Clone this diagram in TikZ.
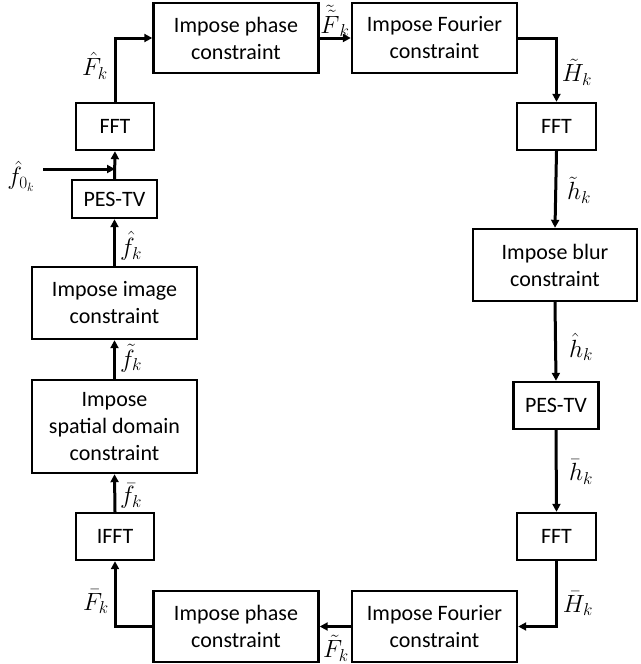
\documentclass[tikz,border=0pt]{standalone}
\usepackage{fontspec}
\setmainfont{Carlito}
\usetikzlibrary{arrows.meta}
\begin{document}
\begin{tikzpicture}[x=1pt,y=-1pt,
  box/.style={draw,line width=2.4pt,inner sep=0pt,align=center,
    font=\fontsize{22}{27}\selectfont},
  arr/.style={line width=3pt,-{Triangle[length=8pt,width=8pt]}},
  lab/.style={font=\fontsize{24}{28}\selectfont,inner sep=0pt}]
\useasboundingbox (0,0) rectangle (640,664);
% top row
\node[box,minimum width=165pt,minimum height=70pt] (ph1) at (236,38) {Impose phase\\constraint};
\node[box,minimum width=165pt,minimum height=70pt] (fo1) at (434.5,38) {Impose Fourier\\constraint};
% right column
\node[box,minimum width=79pt,minimum height=47pt] (fftR1) at (556.5,126.5) {FFT};
\node[box,minimum width=164pt,minimum height=72pt] (blur) at (555,265) {Impose blur\\constraint};
\node[box,minimum width=85pt,minimum height=47pt] (pesR) at (556,405.5) {PES-TV};
\node[box,minimum width=79pt,minimum height=47pt] (fftR2) at (556.5,536.5) {FFT};
% bottom row
\node[box,minimum width=165pt,minimum height=71pt] (fo2) at (434.5,626.5) {Impose Fourier\\constraint};
\node[box,minimum width=165pt,minimum height=71pt] (ph2) at (236,626.5) {Impose phase\\constraint};
% left column
\node[box,minimum width=78pt,minimum height=47pt] (ifft) at (115,536.5) {IFFT};
\node[box,minimum width=165pt,minimum height=93pt] (spat) at (114.5,426.5) {Impose\\spatial domain\\constraint};
\node[box,minimum width=165pt,minimum height=72pt] (img) at (114.5,303) {Impose image\\constraint};
\node[box,minimum width=85pt,minimum height=38pt] (pesL) at (114.5,199) {PES-TV};
\node[box,minimum width=78pt,minimum height=47pt] (fftL) at (115,126.5) {FFT};
\coordinate (in) at (43,169);
% connectors
\draw[arr] (fftL.north) |- (ph1.west);
\draw[arr] (ph1.east) -- (fo1.west);
\draw[arr] (fo1.east) -| (fftR1.north);
\draw[arr] (fftR1.south) -- (blur.north);
\draw[arr] (blur.south) -- (pesR.north);
\draw[arr] (pesR.south) -- (fftR2.north);
\draw[arr] (fftR2.south) |- (fo2.east);
\draw[arr] (fo2.west) -- (ph2.east);
\draw[arr] (ph2.west) -| (ifft.south);
\draw[arr] (ifft.north) -- (spat.south);
\draw[arr] (spat.north) -- (img.south);
\draw[arr] (img.north) -- (pesL.south);
\draw[arr] (pesL.north) -- (fftL.south);
\draw[arr] (in) -- (in -| fftL.south);
% labels
\node[lab] (l1) at (95,66) {$\hat{F}_k$};
\node[lab] (l2) at (335,21) {$\tilde{\tilde{F}}_k$};
\node[lab] (l3) at (577,72) {$\tilde{H}_k$};
\node[lab] (l4) at (579,190) {$\tilde{h}_k$};
\node[lab] (l5) at (581,347) {$\hat{h}_k$};
\node[lab] (l6) at (581,472) {$\bar{h}_k$};
\node[lab] (l7) at (578,604) {$\bar{H}_k$};
\node[lab] (l8) at (336,648) {$\tilde{F}_k$};
\node[lab] (l9) at (96,602) {$\bar{F}_k$};
\node[lab] (l10) at (131,496) {$\bar{f}_k$};
\node[lab] (l11) at (131,358) {$\tilde{f}_k$};
\node[lab] (l12) at (131,246) {$\hat{f}_k$};
\node[lab] (l13) at (21,176) {$\hat{f}_{0_k}$};
\end{tikzpicture}
\end{document}
